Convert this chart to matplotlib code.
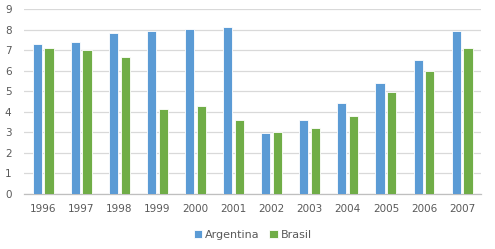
import matplotlib
matplotlib.use('Agg')
import matplotlib.pyplot as plt
import numpy as np

# data
years = ['1996', '1997', '1998', '1999', '2000', '2001',
         '2002', '2003', '2004', '2005', '2006', '2007']
argentina = [7.30, 7.41, 7.85, 7.97, 8.03, 8.13, 2.96, 3.62, 4.44, 5.43, 6.55, 7.97]
brasil = [7.11, 7.01, 6.67, 4.16, 4.29, 3.59, 3.04, 3.20, 3.79, 4.99, 5.98, 7.11]

BLUE = '#5B9BD5'
GREEN = '#70AD47'
TXT = '#595959'

fig = plt.figure(figsize=(4.95, 2.49), dpi=100)
ax = fig.add_axes([0.0485, 0.221, 0.9235, 0.741])

x = np.arange(len(years))
w = 0.24
gap = 0.035
ax.bar(x - w / 2 - gap, argentina, w, color=BLUE, edgecolor='white', linewidth=0.6,
       label='Argentina', zorder=3)
ax.bar(x + w / 2 + gap, brasil, w, color=GREEN, edgecolor='white', linewidth=0.6,
       label='Brasil', zorder=3)

ax.set_xlim(-0.5, len(years) - 0.5)
ax.set_ylim(0, 9)
ax.set_yticks(range(0, 10))
ax.set_xticks(x)
ax.set_xticklabels(years)
ax.grid(axis='y', color='#D9D9D9', linewidth=0.9, zorder=0)
for s in ['top', 'right', 'left']:
    ax.spines[s].set_visible(False)
ax.spines['bottom'].set_color('#BFBFBF')
ax.spines['bottom'].set_linewidth(0.9)
ax.tick_params(length=0, labelsize=7.5, labelcolor=TXT)
ax.tick_params(axis='x', pad=7)
ax.tick_params(axis='y', pad=9)

ax.legend(loc='center', bbox_to_anchor=(0.5, -0.22), ncol=2, frameon=False,
          fontsize=8, labelcolor=TXT, handlelength=0.8, handleheight=0.8,
          handletextpad=0.25, columnspacing=0.8)

fig.savefig('out.png', dpi=100)
